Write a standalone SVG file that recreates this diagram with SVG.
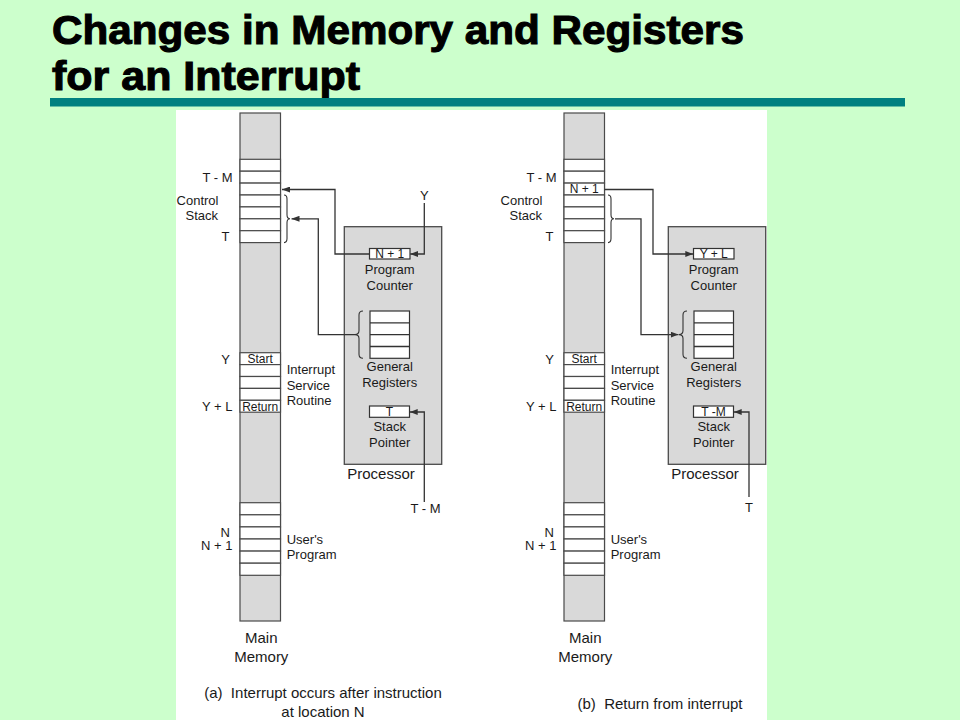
<svg xmlns="http://www.w3.org/2000/svg" width="960" height="720" viewBox="0 0 960 720">
<defs>
<style>
.t{font-family:"Liberation Sans",Arial,sans-serif;fill:#1a1a1a}
.s13{font-size:13px}
.s12{font-size:12px}
.s15{font-size:15px}
.e{text-anchor:end}
.m{text-anchor:middle}
.pre{white-space:pre}
.ttl{font-family:"Liberation Sans",Arial,sans-serif;font-weight:bold;font-size:41px;fill:#000;stroke:#000;stroke-width:1.1}
.mem{fill:#d9d9d9;stroke:#4a4a4a;stroke-width:1.2}
.cell{fill:#ffffff;stroke:#4a4a4a;stroke-width:1.2}
.proc{fill:#d9d9d9;stroke:#4a4a4a;stroke-width:1.3}
.box{fill:#ffffff;stroke:#333333;stroke-width:1.2}
.ln{fill:none;stroke:#333333;stroke-width:1.3}
.br{fill:none;stroke:#333333;stroke-width:1.1}
</style>
<marker id="ah" markerUnits="userSpaceOnUse" markerWidth="8" markerHeight="6" refX="8" refY="3" orient="auto">
<path d="M0,0 L8,3 L0,6 z" fill="#333333"/>
</marker>
</defs>
<rect x="0" y="0" width="960" height="720" fill="#ccffcc"/>
<g id="title">
<text class="ttl" x="52" y="44" textLength="692" lengthAdjust="spacingAndGlyphs">Changes in Memory and Registers</text>
<text class="ttl" x="52" y="90" textLength="308" lengthAdjust="spacingAndGlyphs">for an Interrupt</text>
<rect x="50" y="98" width="855" height="8.5" fill="#008080"/>
</g>
<rect id="panel" x="176" y="110" width="591" height="610" fill="#ffffff"/>

<!-- ===== (a) ===== -->
<g id="memory-a">
<rect class="mem" x="240" y="113" width="40.5" height="508"/>
<rect class="cell" x="240" y="159.3" width="40.5" height="11.9"/>
<rect class="cell" x="240" y="171.2" width="40.5" height="11.9"/>
<rect class="cell" x="240" y="183.1" width="40.5" height="11.9"/>
<rect class="cell" x="240" y="195" width="40.5" height="11.9"/>
<rect class="cell" x="240" y="206.9" width="40.5" height="11.9"/>
<rect class="cell" x="240" y="218.8" width="40.5" height="11.9"/>
<rect class="cell" x="240" y="230.7" width="40.5" height="11.9"/>
<rect class="cell" x="240" y="352.7" width="40.5" height="11.9"/>
<rect class="cell" x="240" y="364.6" width="40.5" height="11.9"/>
<rect class="cell" x="240" y="376.5" width="40.5" height="11.9"/>
<rect class="cell" x="240" y="388.4" width="40.5" height="11.9"/>
<rect class="cell" x="240" y="400.3" width="40.5" height="11.9"/>
<rect class="cell" x="240" y="502.7" width="40.5" height="12.1"/>
<rect class="cell" x="240" y="514.8" width="40.5" height="12.1"/>
<rect class="cell" x="240" y="526.9" width="40.5" height="12.1"/>
<rect class="cell" x="240" y="539" width="40.5" height="12.1"/>
<rect class="cell" x="240" y="551.1" width="40.5" height="12.1"/>
<rect class="cell" x="240" y="563.2" width="40.5" height="12.1"/>
<text class="t s12 m" x="260.2" y="362.8">Start</text>
<text class="t s12 m" x="260.2" y="410.6">Return</text>
<text class="t s13 e" x="232.5" y="182">T - M</text>
<text class="t s13 e" x="218.5" y="204.7">Control</text>
<text class="t s13 e" x="218" y="219.7">Stack</text>
<text class="t s13 e" x="229.5" y="241.3">T</text>
<path class="br" d="M284,195 Q287,195 287,199 V214.8 Q287,218.8 290,218.8 Q287,218.8 287,222.8 V238.6 Q287,242.6 284,242.6"/>
<text class="t s13 e" x="230" y="364">Y</text>
<text class="t s13 e" x="232.5" y="410.7">Y + L</text>
<text class="t s13" x="286.7" y="373.7">Interrupt</text>
<text class="t s13" x="286.7" y="389.7">Service</text>
<text class="t s13" x="286.7" y="405.2">Routine</text>
<text class="t s13 e" x="230" y="536.5">N</text>
<text class="t s13 e" x="232.5" y="549.5">N + 1</text>
<text class="t s13" x="286.7" y="543.7">User's</text>
<text class="t s13" x="286.7" y="558.7">Program</text>
<text class="t s15 m" x="261.3" y="642.7">Main</text>
<text class="t s15 m" x="261.3" y="662">Memory</text>
</g>
<g id="processor-a">
<rect class="proc" x="344.3" y="226.7" width="97.4" height="237.6"/>
<rect class="box" x="369.5" y="248.5" width="40.5" height="10.5"/>
<text class="t s12 m" x="389.7" y="257.8">N + 1</text>
<text class="t s13 m" x="389.7" y="273.7">Program</text>
<text class="t s13 m" x="389.7" y="289.7">Counter</text>
<rect class="box" x="370" y="311" width="39.5" height="47.3"/>
<line class="ln" x1="370" y1="322.8" x2="409.5" y2="322.8"/>
<line class="ln" x1="370" y1="334.6" x2="409.5" y2="334.6"/>
<line class="ln" x1="370" y1="346.5" x2="409.5" y2="346.5"/>
<path class="br" d="M363,311 Q359,311 359,315 V330.6 Q359,334.6 355,334.6 Q359,334.6 359,338.6 V354.3 Q359,358.3 363,358.3"/>
<text class="t s13 m" x="389.7" y="370.7">General</text>
<text class="t s13 m" x="389.7" y="387.4">Registers</text>
<rect class="box" x="369.5" y="406" width="40" height="11.3"/>
<text class="t s12 m" x="389.5" y="415.6">T</text>
<text class="t s13 m" x="389.7" y="431.4">Stack</text>
<text class="t s13 m" x="389.7" y="447.4">Pointer</text>
<text class="t s15 m" x="381" y="478.6">Processor</text>
</g>
<g id="labels-a">
<text class="t s13 m" x="424.3" y="199.7">Y</text>
<text class="t s13 m" x="425.5" y="513">T - M</text>
<text class="t s15 m pre" x="323" y="698" xml:space="preserve">(a)  Interrupt occurs after instruction</text>
<text class="t s15 m" x="323" y="717">at location N</text>
</g>

<!-- ===== (b) ===== -->
<g id="memory-b">
<rect class="mem" x="564" y="113" width="40.5" height="508"/>
<rect class="cell" x="564" y="159.3" width="40.5" height="11.9"/>
<rect class="cell" x="564" y="171.2" width="40.5" height="11.9"/>
<rect class="cell" x="564" y="183.1" width="40.5" height="11.9"/>
<rect class="cell" x="564" y="195" width="40.5" height="11.9"/>
<rect class="cell" x="564" y="206.9" width="40.5" height="11.9"/>
<rect class="cell" x="564" y="218.8" width="40.5" height="11.9"/>
<rect class="cell" x="564" y="230.7" width="40.5" height="11.9"/>
<rect class="cell" x="564" y="352.7" width="40.5" height="11.9"/>
<rect class="cell" x="564" y="364.6" width="40.5" height="11.9"/>
<rect class="cell" x="564" y="376.5" width="40.5" height="11.9"/>
<rect class="cell" x="564" y="388.4" width="40.5" height="11.9"/>
<rect class="cell" x="564" y="400.3" width="40.5" height="11.9"/>
<rect class="cell" x="564" y="502.7" width="40.5" height="12.1"/>
<rect class="cell" x="564" y="514.8" width="40.5" height="12.1"/>
<rect class="cell" x="564" y="526.9" width="40.5" height="12.1"/>
<rect class="cell" x="564" y="539" width="40.5" height="12.1"/>
<rect class="cell" x="564" y="551.1" width="40.5" height="12.1"/>
<rect class="cell" x="564" y="563.2" width="40.5" height="12.1"/>
<text class="t s12 m" x="584.2" y="193.3">N + 1</text>
<text class="t s12 m" x="584.2" y="362.8">Start</text>
<text class="t s12 m" x="584.2" y="410.6">Return</text>
<text class="t s13 e" x="556.5" y="182">T - M</text>
<text class="t s13 e" x="542.5" y="204.7">Control</text>
<text class="t s13 e" x="542" y="219.7">Stack</text>
<text class="t s13 e" x="553.5" y="241.3">T</text>
<path class="br" d="M608,195 Q611,195 611,199 V214.8 Q611,218.8 614,218.8 Q611,218.8 611,222.8 V238.6 Q611,242.6 608,242.6"/>
<text class="t s13 e" x="554" y="364">Y</text>
<text class="t s13 e" x="556.5" y="410.7">Y + L</text>
<text class="t s13" x="610.7" y="373.7">Interrupt</text>
<text class="t s13" x="610.7" y="389.7">Service</text>
<text class="t s13" x="610.7" y="405.2">Routine</text>
<text class="t s13 e" x="554" y="536.5">N</text>
<text class="t s13 e" x="556.5" y="549.5">N + 1</text>
<text class="t s13" x="610.7" y="543.7">User's</text>
<text class="t s13" x="610.7" y="558.7">Program</text>
<text class="t s15 m" x="585.3" y="642.7">Main</text>
<text class="t s15 m" x="585.3" y="662">Memory</text>
</g>
<g id="processor-b">
<rect class="proc" x="668.3" y="226.7" width="97.4" height="237.6"/>
<rect class="box" x="693.5" y="248.5" width="40.5" height="10.5"/>
<text class="t s12 m" x="713.7" y="257.8">Y + L</text>
<text class="t s13 m" x="713.7" y="273.7">Program</text>
<text class="t s13 m" x="713.7" y="289.7">Counter</text>
<rect class="box" x="694" y="311" width="39.5" height="47.3"/>
<line class="ln" x1="694" y1="322.8" x2="733.5" y2="322.8"/>
<line class="ln" x1="694" y1="334.6" x2="733.5" y2="334.6"/>
<line class="ln" x1="694" y1="346.5" x2="733.5" y2="346.5"/>
<path class="br" d="M687,311 Q683,311 683,315 V330.6 Q683,334.6 679,334.6 Q683,334.6 683,338.6 V354.3 Q683,358.3 687,358.3"/>
<text class="t s13 m" x="713.7" y="370.7">General</text>
<text class="t s13 m" x="713.7" y="387.4">Registers</text>
<rect class="box" x="693.5" y="406" width="40" height="11.3"/>
<text class="t s12 m" x="713.5" y="415.6">T -M</text>
<text class="t s13 m" x="713.7" y="431.4">Stack</text>
<text class="t s13 m" x="713.7" y="447.4">Pointer</text>
<text class="t s15 m" x="705" y="478.6">Processor</text>
</g>
<g id="labels-b">
<text class="t s13 m" x="749" y="512">T</text>
<text class="t s15 m pre" x="660" y="708.7" xml:space="preserve">(b)  Return from interrupt</text>
</g>

<g id="connectors">
<path class="ln" marker-end="url(#ah)" d="M369.5,254 H335 V189.5 H282"/>
<path class="ln" marker-end="url(#ah)" d="M355,334.6 H318.3 V218.8 H291.5"/>
<path class="ln" marker-end="url(#ah)" d="M424.3,203 V254 H410.2"/>
<path class="ln" marker-end="url(#ah)" d="M424.3,502 V412 H409.7"/>
<path class="ln" marker-end="url(#ah)" d="M604.5,189.5 H653 V254 H693.3"/>
<path class="ln" marker-end="url(#ah)" d="M615,218.8 H641 V334.6 H678.5"/>
<path class="ln" marker-end="url(#ah)" d="M749,497 V412 H733.7"/>
</g>
</svg>
